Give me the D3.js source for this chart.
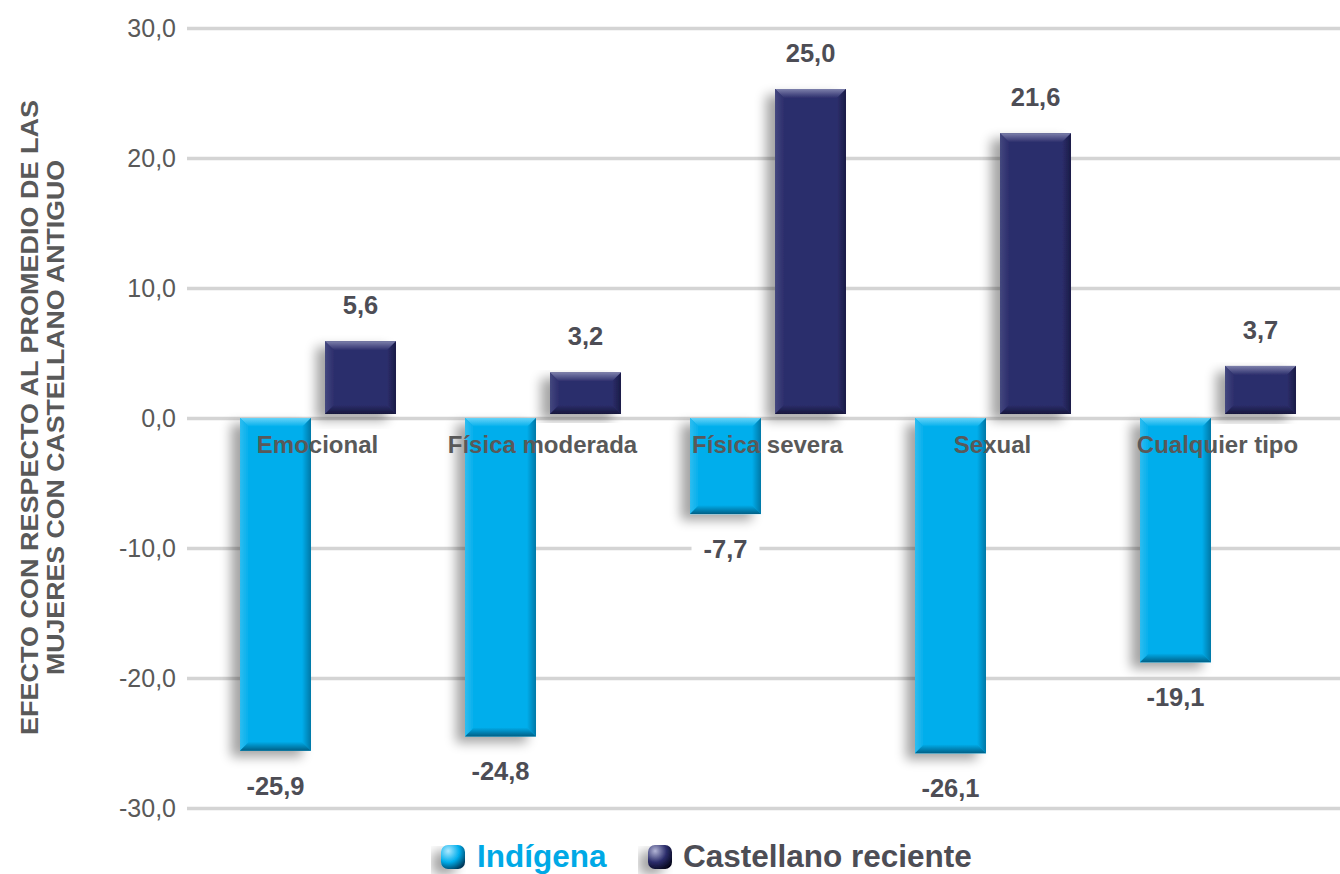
<!DOCTYPE html>
<html lang="es">
<head>
<meta charset="utf-8">
<script src="https://cdn.jsdelivr.net/npm/d3@7"></script>
<style>
  html, body { margin: 0; padding: 0; background: #ffffff; }
  svg { display: block; font-family: "Liberation Sans", Arial, sans-serif; }
</style>
</head>
<body>
<svg id="chart" width="1340" height="874"></svg>
<script>
// Categories, series and values
const categories = ["Emocional", "Física moderada", "Física severa", "Sexual", "Cualquier tipo"];
const seriesNames = ["Indígena", "Castellano reciente"];
const indigena = [-25.9, -24.8, -7.7, -26.1, -19.1];
const castellano = [5.6, 3.2, 25.0, 21.6, 3.7];
const yTicks = [-30, -20, -10, 0, 10, 20, 30];
const axisTitle = ["EFECTO CON RESPECTO AL PROMEDIO DE LAS", "MUJERES CON CASTELLANO ANTIGUO"];

const W = 1340, H = 874;
const svg = d3.select("#chart");

const locale = d3.formatLocale({ decimal: ",", thousands: ".", grouping: [3], currency: ["", "€"], minus: "-" });
const fmt = locale.format(".1f");

// Scales
const y = d3.scaleLinear().domain([-30, 30]).range([808, 28]);
const x0 = d3.scaleBand().domain(categories).range([205, 1330]).padding(0);
const x1 = d3.scaleBand().domain(seriesNames).range([35, 191]).paddingInner(0.165).paddingOuter(0);

// Bar styling per series: body colour and bevel edge colours
const style = {
  "Indígena":            { base: "#00aeec", top: "#66d3f8", left: "#2fbdf0", right: "#0077a6", bottom: "#005f86" },
  "Castellano reciente": { base: "#2c2e6c", top: "#7d80ab", left: "#45487f", right: "#1a1b46", bottom: "#17183c" }
};

const defs = svg.append("defs");

// Soft shadow falling to the lower left of each bar
const shadow = defs.append("filter").attr("id", "barShadow")
  .attr("x", "-40%").attr("y", "-20%").attr("width", "180%").attr("height", "140%");
shadow.append("feGaussianBlur").attr("in", "SourceAlpha").attr("stdDeviation", 6).attr("result", "blur");
shadow.append("feOffset").attr("in", "blur").attr("dx", -9).attr("dy", 6).attr("result", "off");
shadow.append("feComponentTransfer").attr("in", "off").attr("result", "shade")
  .append("feFuncA").attr("type", "linear").attr("slope", 0.36);
const merge = shadow.append("feMerge");
merge.append("feMergeNode").attr("in", "shade");
merge.append("feMergeNode").attr("in", "SourceGraphic");

// Bevel gradients
function linGrad(id, x2, y2, c0, c1) {
  const g = defs.append("linearGradient").attr("id", id)
    .attr("x1", 0).attr("y1", 0).attr("x2", x2).attr("y2", y2);
  g.append("stop").attr("offset", "0%").attr("stop-color", c0);
  g.append("stop").attr("offset", "100%").attr("stop-color", c1);
}
seriesNames.forEach((s, i) => {
  const st = style[s];
  linGrad(`top${i}`, 0, 1, st.top, st.base);
  linGrad(`bot${i}`, 0, 1, st.base, st.bottom);
  linGrad(`lef${i}`, 1, 0, st.left, st.base);
  linGrad(`rig${i}`, 1, 0, st.base, st.right);
});

// Legend marker gradients (glossy rounded squares)
function radGrad(id, c0, c1, c2) {
  const g = defs.append("radialGradient").attr("id", id)
    .attr("cx", "30%").attr("cy", "25%").attr("r", "85%");
  g.append("stop").attr("offset", "0%").attr("stop-color", c0);
  g.append("stop").attr("offset", "55%").attr("stop-color", c1);
  g.append("stop").attr("offset", "100%").attr("stop-color", c2);
}
radGrad("leg0", "#aee9ff", "#00aeec", "#00395a");
radGrad("leg1", "#b3b5d6", "#2c2e6c", "#05061a");

// Gridlines and y tick labels
const yAxis = d3.axisLeft(y)
  .tickValues(yTicks)
  .tickSize(-(W - 187))
  .tickPadding(11)
  .tickFormat(fmt);

const gAxis = svg.append("g").attr("transform", "translate(187,0)").call(yAxis);
gAxis.select(".domain").remove();
gAxis.selectAll(".tick line").attr("stroke", "#d4d4d4").attr("stroke-width", 3.5);
gAxis.selectAll(".tick text")
  .attr("fill", "#595959")
  .attr("font-size", 25)
  .attr("font-family", "'Liberation Sans', Arial, sans-serif");

// Y axis title (two rotated lines)
const titleG = svg.append("g").attr("transform", "translate(0,417.5) rotate(-90)");
titleG.selectAll("text").data(axisTitle).join("text")
  .attr("x", 0)
  .attr("y", (d, i) => 38 + i * 25.5)
  .attr("text-anchor", "middle")
  .attr("font-size", 23.5)
  .attr("font-weight", "bold")
  .attr("fill", "#595959")
  .attr("textLength", (d, i) => i === 0 ? 635 : 515)
  .attr("lengthAdjust", "spacingAndGlyphs")
  .text(d => d);

// Bar records
const depth = 4; // apparent 3-D offset of the bars
const bars = [];
categories.forEach((c, ci) => {
  [indigena[ci], castellano[ci]].forEach((v, si) => {
    const s = seriesNames[si];
    const x = x0(c) + x1(s);
    const w = x1.bandwidth();
    let top, bottom;
    if (v >= 0) { top = y(v) - depth; bottom = y(0) - depth; }
    else { top = y(0); bottom = y(v) - depth; }
    bars.push({ cat: c, series: s, si, value: v, x, w, top, bottom });
  });
});

// Bars with bevelled edges
const b = 9;
const barG = svg.append("g").selectAll("g.bar").data(bars).join("g")
  .attr("class", "bar")
  .attr("filter", "url(#barShadow)");

barG.append("rect")
  .attr("x", d => d.x).attr("y", d => d.top)
  .attr("width", d => d.w).attr("height", d => d.bottom - d.top)
  .attr("fill", d => style[d.series].base);

const pts = a => a.map(p => p.join(",")).join(" ");
barG.append("polygon")
  .attr("points", d => pts([[d.x, d.top], [d.x + d.w, d.top], [d.x + d.w - b, d.top + b], [d.x + b, d.top + b]]))
  .attr("fill", d => `url(#top${d.si})`);
barG.append("polygon")
  .attr("points", d => pts([[d.x, d.top], [d.x + b, d.top + b], [d.x + b, d.bottom - b], [d.x, d.bottom]]))
  .attr("fill", d => `url(#lef${d.si})`);
barG.append("polygon")
  .attr("points", d => pts([[d.x + d.w, d.top], [d.x + d.w, d.bottom], [d.x + d.w - b, d.bottom - b], [d.x + d.w - b, d.top + b]]))
  .attr("fill", d => `url(#rig${d.si})`);
barG.append("polygon")
  .attr("points", d => pts([[d.x, d.bottom], [d.x + b, d.bottom - b], [d.x + d.w - b, d.bottom - b], [d.x + d.w, d.bottom]]))
  .attr("fill", d => `url(#bot${d.si})`);

// Category labels, drawn over the bars
svg.append("g").selectAll("text").data(categories).join("text")
  .attr("x", d => x0(d) + x0.bandwidth() / 2)
  .attr("y", y(0) + 35)
  .attr("text-anchor", "middle")
  .attr("font-size", 24)
  .attr("font-weight", "bold")
  .attr("fill", "#595959")
  .text(d => d);

// Value labels with a white backing box
const lblG = svg.append("g").selectAll("g").data(bars).join("g")
  .attr("transform", d => `translate(${d.x + d.w / 2},${d.value >= 0 ? d.top - 27 : d.bottom + 44})`);
lblG.append("text")
  .attr("text-anchor", "middle")
  .attr("font-size", 25.5)
  .attr("font-weight", "bold")
  .attr("fill", "#4d4d55")
  .text(d => fmt(d.value));
lblG.each(function () {
  const g = d3.select(this);
  const bb = g.select("text").node().getBBox();
  g.insert("rect", "text")
    .attr("x", bb.x - 12).attr("y", -19)
    .attr("width", bb.width + 24).attr("height", 22)
    .attr("fill", "#ffffff");
});

// Legend
const legendItems = [
  { name: seriesNames[0], mx: 441, tx: 477, grad: "url(#leg0)", color: "#00a9e6" },
  { name: seriesNames[1], mx: 648, tx: 683, grad: "url(#leg1)", color: "#4d4d55" }
];
const legG = svg.append("g").selectAll("g").data(legendItems).join("g");
legG.append("rect")
  .attr("x", d => d.mx).attr("y", 845)
  .attr("width", 24).attr("height", 24)
  .attr("rx", 7).attr("ry", 7)
  .attr("fill", d => d.grad)
  .attr("filter", "url(#barShadow)");
legG.append("text")
  .attr("x", d => d.tx).attr("y", 867)
  .attr("font-size", 31.5)
  .attr("font-weight", "bold")
  .attr("fill", d => d.color)
  .text(d => d.name);
</script>
</body>
</html>
